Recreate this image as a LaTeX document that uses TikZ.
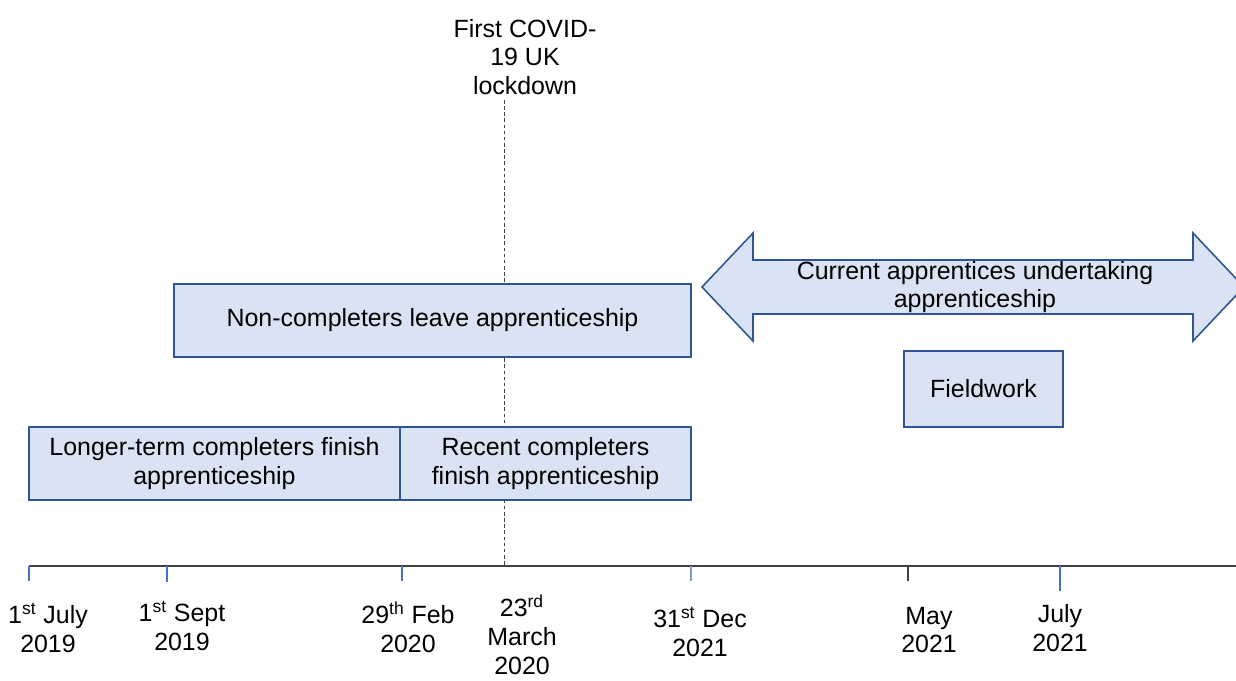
\documentclass[tikz,border=0pt]{standalone}
\usepackage{fontspec}
\setmainfont{Liberation Sans}
\definecolor{boxfill}{HTML}{DAE3F3}
\definecolor{boxline}{HTML}{2F5597}
\definecolor{tickblue}{HTML}{4472C4}
\definecolor{axisgray}{HTML}{404040}

\begin{document}
\begin{tikzpicture}[x=0.02cm,y=-0.02cm,
  every node/.style={font=\fontsize{14.2}{16.4}\selectfont, align=center, inner sep=0pt},
  phase/.style={draw=boxline, fill=boxfill, line width=0.9pt}]
\useasboundingbox (0,0) rectangle (1236,680);
\clip (0,0) rectangle (1236,680);
\node (lockdown) at (525,57) {First COVID-\\19 UK\\lockdown};
\coordinate (lockbase) at (504,566);
\draw[axisgray, dash pattern=on 2pt off 1.5pt] (504,100) -- (lockbase);
\draw[axisgray, line width=0.8pt] (29,566) -- (1236,566);
\foreach \x/\len/\col in {29/15/tickblue, 167/16/tickblue, 402/15/tickblue, 691/15/tickblue!70, 908/15/axisgray, 1060/25/tickblue}
  \draw[\col, line width=0.8pt] (\x,566) -- (\x,566+\len);
\node[phase, minimum width=10.34cm, minimum height=1.46cm] (leavers) at (432.5,320.5) {Non-completers leave apprenticeship};
\node[phase, minimum width=7.42cm, minimum height=1.46cm] (longterm) at (214.5,463.5) {Longer-term completers finish\\apprenticeship};
\node[phase, minimum width=5.82cm, minimum height=1.46cm] (recent) at (545.5,463.5) {Recent completers\\finish apprenticeship};
\node[phase, minimum width=3.18cm, minimum height=1.52cm] (fieldwork) at (983.5,389) {Fieldwork};
\filldraw[phase] (702,287) -- (753,233) -- (753,260) -- (1193,260) -- (1193,233) -- (1244,287)
  -- (1193,341) -- (1193,314) -- (753,314) -- (753,341) -- cycle;
\node (current) at (975,287) {Current apprentices undertaking\\apprenticeship};
\node (july) at (48,627.5) {1\textsuperscript{st} July\\2019};
\node (sept) at (182,625.5) {1\textsuperscript{st} Sept\\2019};
\node (feb) at (408,627) {29\textsuperscript{th} Feb\\2020};
\node (march) at (522,635) {23\textsuperscript{rd}\\March\\2020};
\node (dec) at (700,631.5) {31\textsuperscript{st} Dec\\2021};
\node (may) at (929,630) {May\\2021};
\node (julyb) at (1060,628) {July\\2021};
\end{tikzpicture}
\end{document}
